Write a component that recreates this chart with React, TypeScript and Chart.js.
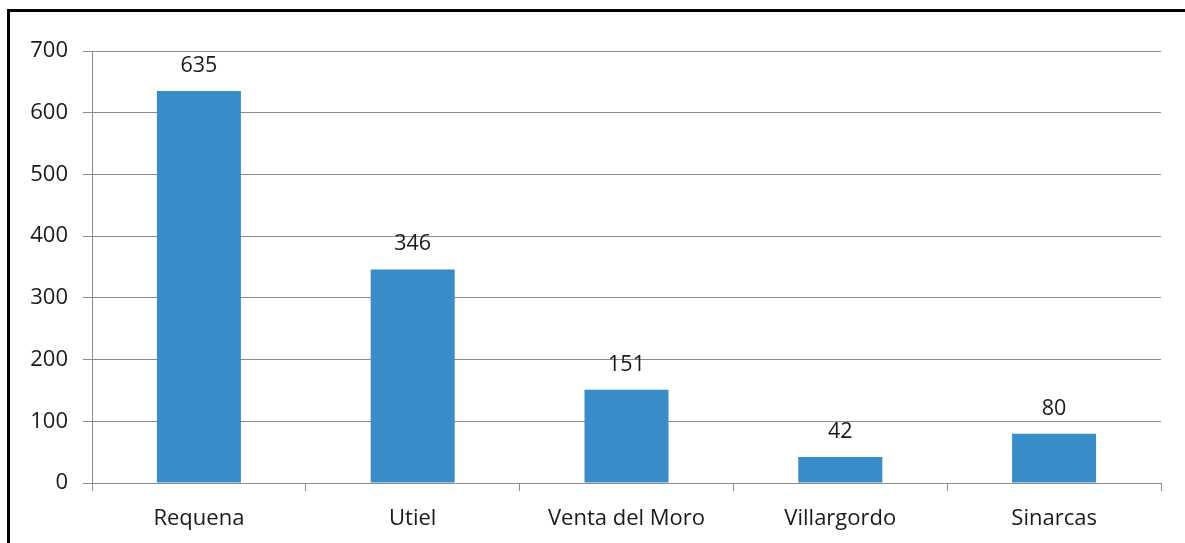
import React, { useEffect, useRef } from "react";
import { Chart, registerables } from "chart.js";

Chart.register(...registerables);

const categories = ["Requena", "Utiel", "Venta del Moro", "Villargordo", "Sinarcas"];
const values = [635, 346, 151, 42, 80];
const yTicks = [0, 100, 200, 300, 400, 500, 600, 700];

const FONT = "'Open Sans', 'DejaVu Sans', sans-serif";

export default function App() {
  const ref = useRef<HTMLCanvasElement | null>(null);
  useEffect(() => {
    document.body.style.margin = "0";
    const ctx = ref.current!.getContext("2d")!;
    const frame = {
      id: "frame",
      beforeDraw(chart: any) {
        const c = chart.ctx;
        c.save();
        c.fillStyle = "#ffffff";
        c.fillRect(0, 0, chart.width, chart.height);
        c.strokeStyle = "#000000";
        c.lineWidth = 3;
        c.beginPath();
        c.moveTo(8.5, 600);
        c.lineTo(8.5, 10.5);
        c.lineTo(1300, 10.5);
        c.stroke();
        c.restore();
      },
    };
    const labels = {
      id: "valueLabels",
      afterDatasetsDraw(chart: any) {
        const c = chart.ctx;
        const meta = chart.getDatasetMeta(0);
        c.save();
        c.font = `21.5px ${FONT}`;
        c.fillStyle = "#1a1a1a";
        c.textAlign = "center";
        c.textBaseline = "alphabetic";
        meta.data.forEach((bar: any, i: number) => {
          c.fillText(String(values[i]), bar.x, bar.y - 19);
        });
        c.restore();
      },
    };
    const chart = new Chart(ctx, {
      type: "bar",
      data: {
        labels: categories,
        datasets: [
          {
            data: values,
            backgroundColor: "#388cc8",
            barPercentage: 1,
            categoryPercentage: 0.393,
          },
        ],
      },
      options: {
        animation: false,
        responsive: false,
        maintainAspectRatio: false,
        layout: { padding: { top: 51, right: 24, left: 0, bottom: 0 } },
        plugins: { legend: { display: false }, tooltip: { enabled: false } },
        scales: {
          x: {
            grid: {
              drawOnChartArea: false,
              drawTicks: true,
              tickLength: 8,
              color: "#8c8c8c",
              offset: true,
            },
            border: { color: "#8c8c8c" },
            ticks: {
              color: "#1a1a1a",
              font: { family: FONT, size: 22 },
              padding: 15,
            },
            afterFit(scale: any) {
              scale.height = 60;
            },
          },
          y: {
            min: 0,
            max: 700,
            afterBuildTicks(scale: any) {
              scale.ticks = yTicks.map((v) => ({ value: v }));
            },
            grid: { color: "#8c8c8c", tickLength: 9 },
            border: { color: "#8c8c8c" },
            ticks: {
              color: "#1a1a1a",
              font: { family: FONT, size: 22 },
              padding: 15,
            },
            afterFit(scale: any) {
              scale.width = 92;
            },
          },
        },
      },
      plugins: [frame, labels],
    });
    return () => chart.destroy();
  }, []);
  return <canvas ref={ref} width={1185} height={543} style={{ display: "block" }} />;
}
